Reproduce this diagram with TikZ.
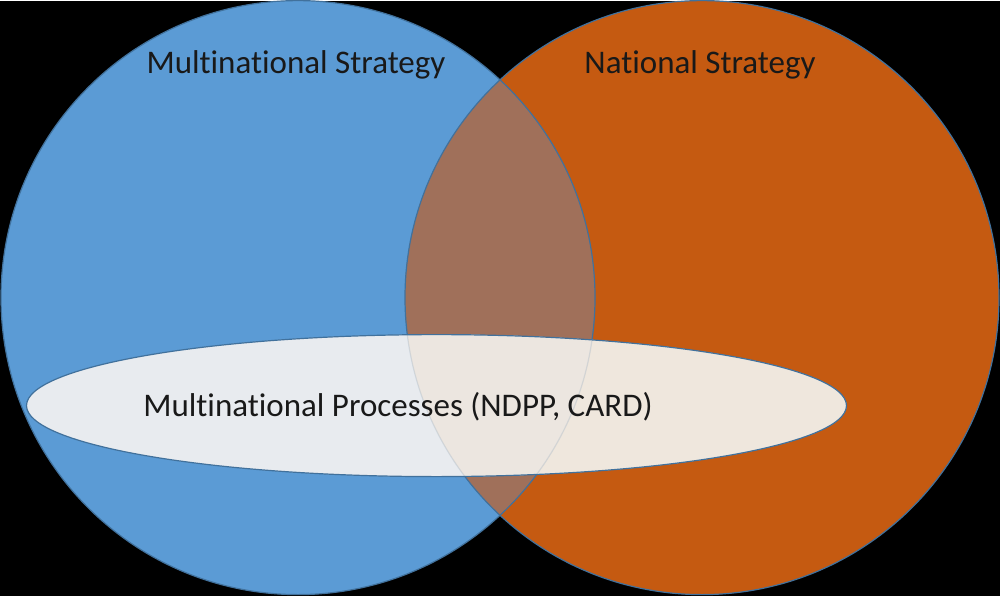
\documentclass[tikz,border=0pt]{standalone}
\usepackage{fontspec}
\setmainfont[Ligatures=NoCommon]{Carlito}
\definecolor{stratblue}{HTML}{5B9BD5}
\definecolor{natorange}{HTML}{C55A11}
\definecolor{overlapbrown}{HTML}{A0705A}
\definecolor{procblue}{HTML}{E8EBEF}
\definecolor{procmid}{HTML}{ECE6E0}
\definecolor{procorange}{HTML}{EFE7DD}
\definecolor{rimblue}{HTML}{41719C}
\tikzset{
	rim/.style={draw=rimblue, line width=0.6pt},
	label/.style={anchor=base, font=\fontsize{16.5}{19}\selectfont, text=black!90}
}

\begin{document}
\begin{tikzpicture}[x=0.5pt,y=0.5pt]
	\fill[black] (0,0) rectangle (1000,595);
	\coordinate (multi) at (298,298);
	\coordinate (nat) at (702,298);
	\coordinate (proc) at (436.5,190);
	% the two strategy circles
	\fill[stratblue] (multi) circle (297);
	\fill[natorange] (nat) circle (297);
	\begin{scope}
		\clip (multi) circle (297);
		\fill[overlapbrown] (nat) circle (297);
	\end{scope}
	\draw[rim] (multi) circle (297);
	\draw[rim] (nat) circle (297);
	% processes ellipse
	\fill[procblue] (proc) ellipse (410 and 71);
	\begin{scope}
		\clip (proc) ellipse (410 and 71);
		\fill[procorange] (nat) circle (297);
		\clip (nat) circle (297);
		\fill[procmid] (multi) circle (297);
	\end{scope}
	\begin{scope}
		\clip (proc) ellipse (410 and 71);
		\draw[rimblue, opacity=0.15, line width=0.6pt] (multi) circle (297);
		\draw[rimblue, opacity=0.15, line width=0.6pt] (nat) circle (297);
	\end{scope}
	\draw[rim] (proc) ellipse (410 and 71);
	% labels
	\node[label] (multilabel) at (296,522) {Multinational Strategy};
	\node[label] (natlabel) at (700,522) {National Strategy};
	\node[label] (proclabel) at (398,179) {Multinational Processes (NDPP, CARD)};
\end{tikzpicture}
\end{document}
